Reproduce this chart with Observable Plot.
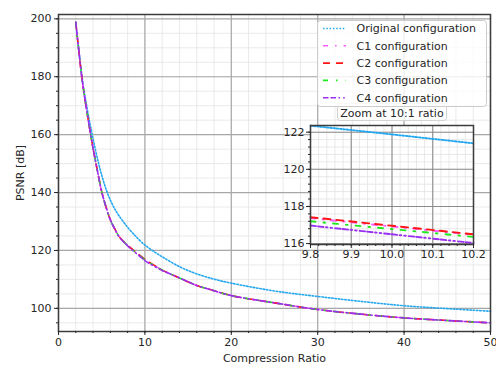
<!DOCTYPE html>
<html><head><meta charset="utf-8">
<script src="https://cdn.jsdelivr.net/npm/d3@7"></script>
<script src="https://cdn.jsdelivr.net/npm/@observablehq/plot@0.6"></script>
<style>
body{margin:0;background:#fff;}
#wrap{position:relative;width:496px;height:365px;font-family:"DejaVu Sans",sans-serif;}
#wrap > svg, #wrap > div{position:absolute;}
</style></head><body><div id="wrap"></div>
<script>
// ---- data ----
const ratios   = [2, 2.3, 2.7, 3, 3.5, 3.7, 4, 4.5, 5, 5.5, 6, 6.5, 7, 8, 9, 9.8, 10, 10.2, 11, 12, 14, 16, 18, 20, 25, 30, 35, 40, 45, 50];
const original = [198.8, 190.5, 180.5, 174.5, 166, 163, 158.6, 151.8, 146.0, 141.2, 137.4, 134.4, 132.0, 128.0, 124.7, 122.35, 121.88, 121.4, 119.7, 117.8, 114.4, 111.9, 110.1, 108.7, 106.0, 104.1, 102.4, 100.9, 99.9, 99.0];
const c1       = [198.8, 190.5, 179.8, 173.4, 164, 160.4, 155.3, 147.6, 140.3, 135.0, 130.6, 127.5, 124.9, 121.8, 119.3, 117.37, 116.92, 116.47, 115.0, 113.2, 110.5, 107.9, 106.1, 104.4, 101.9, 99.6, 98.0, 96.7, 95.8, 95.0];
const c2       = [198.8, 190.5, 179.8, 173.4, 164, 160.4, 155.3, 147.6, 140.3, 135.0, 130.6, 127.5, 124.9, 121.8, 119.3, 117.42, 116.96, 116.50, 115.0, 113.2, 110.5, 107.9, 106.1, 104.4, 101.9, 99.6, 98.0, 96.7, 95.8, 95.0];
const c3       = [198.8, 190.5, 179.8, 173.4, 164, 160.4, 155.3, 147.6, 140.3, 135.0, 130.6, 127.5, 124.9, 121.7, 119.2, 117.20, 116.78, 116.36, 114.9, 113.2, 110.5, 107.9, 106.1, 104.4, 101.9, 99.6, 98.0, 96.7, 95.8, 95.0];
const c4       = [198.8, 190.5, 179.8, 173.4, 164, 160.4, 155.3, 147.6, 140.3, 135.0, 130.6, 127.5, 124.8, 121.6, 119.0, 116.97, 116.50, 116.03, 114.7, 113.1, 110.5, 107.9, 106.1, 104.4, 101.9, 99.6, 98.0, 96.7, 95.8, 95.0];
const seriesNames = ["Original configuration", "C1 configuration", "C2 configuration", "C3 configuration", "C4 configuration"];
const mainXTicks = [0, 10, 20, 30, 40, 50];
const mainYTicks = [100, 120, 140, 160, 180, 200];
const zoomXTicks = [9.8, 9.9, 10.0, 10.1, 10.2];
const zoomYTicks = [116, 118, 120, 122];
const zoomTitle = "Zoom at 10:1 ratio";

// ---- styles ----
const seriesValues = [original, c1, c2, c3, c4];
const styles = [
  {stroke: "#22a7f0", dash: "1.5,1.8"},
  {stroke: "#ff5cff", dash: "5,7,1.6,7"},
  {stroke: "#ff1515", dash: "7,6"},
  {stroke: "#1eea1e", dash: "5,8,1.6,8"},
  {stroke: "#9a2ff2", dash: "5.5,2,5.5,2.5,1.6,3,1.6,3"}
];
const rows = seriesNames.flatMap((name, i) => ratios.map((r, j) => ({series: name, ratio: r, psnr: seriesValues[i][j]})));

const lineMarks = (data, curve, sw) => seriesNames.map((name, i) =>
  Plot.line(data.filter(d => d.series === name), {
    x: "ratio", y: "psnr", stroke: styles[i].stroke, strokeDasharray: styles[i].dash,
    strokeWidth: sw, curve
  }));

const wrap = document.getElementById("wrap");
const font = {fontFamily: "DejaVu Sans", fontSize: "11px", color: "#262626", background: "none", overflow: "visible"};

// ---- main chart ----
const main = Plot.plot({
  width: 496, height: 365, marginLeft: 58, marginRight: 6, marginTop: 14, marginBottom: 34,
  style: font,
  x: {domain: [0, 50]},
  y: {domain: [92, 201.5]},
  marks: [
    Plot.gridX(d3.range(0, 51, 2), {stroke: "#e4e4e4", strokeOpacity: 1, strokeWidth: 0.8}),
    Plot.gridY(d3.range(95, 201, 5), {stroke: "#e4e4e4", strokeOpacity: 1, strokeWidth: 0.8}),
    Plot.gridX(mainXTicks, {stroke: "#a8a8a8", strokeOpacity: 1, strokeWidth: 1.2}),
    Plot.gridY(mainYTicks, {stroke: "#a8a8a8", strokeOpacity: 1, strokeWidth: 1.2}),
    ...lineMarks(rows, "catmull-rom", 1.6),
    Plot.frame({stroke: "#3c3c3c", strokeWidth: 1.5}),
    Plot.axisX(d3.range(0, 51, 2), {tickSize: 2, tickFormat: () => "", label: null}),
    Plot.axisY(d3.range(95, 201, 5), {tickSize: 2, tickFormat: () => "", label: null}),
    Plot.axisX(mainXTicks, {tickSize: 4, tickPadding: 3, label: "Compression Ratio", labelAnchor: "center", labelOffset: 30, labelArrow: "none"}),
    Plot.axisY(mainYTicks, {tickSize: 4, tickPadding: 3, label: "PSNR [dB]", labelAnchor: "center", labelOffset: 42, labelArrow: "none"})
  ]
});
main.style.left = "0px"; main.style.top = "0px";
wrap.appendChild(main);

// ---- inset title box ----
const tbox = document.createElement("div");
tbox.textContent = zoomTitle;
Object.assign(tbox.style, {left: "337px", top: "103px", width: "110px", height: "18px", lineHeight: "18px",
  border: "1px solid #d4d4d4", borderRadius: "3px", background: "rgba(255,255,255,0.8)",
  fontSize: "11px", textAlign: "center", color: "#262626", boxSizing: "border-box", paddingTop: "1px"});
wrap.appendChild(tbox);

// ---- inset ----
const zoomRows = rows.filter(d => d.ratio >= 9.8 && d.ratio <= 10.2);
const inset = Plot.plot({
  width: 210, height: 165, marginLeft: 32, marginRight: 15, marginTop: 25, marginBottom: 21,
  style: font,
  x: {domain: [9.8, 10.2]},
  y: {domain: [115.95, 122.36]},
  marks: [
    Plot.frame({fill: "white", stroke: null}),
    Plot.gridX(d3.range(0, 21).map(i => 9.8 + i * 0.02), {stroke: "#e2e2e2", strokeOpacity: 1, strokeWidth: 0.8}),
    Plot.gridY(d3.range(0, 16).map(i => 116 + i * 0.4), {stroke: "#e2e2e2", strokeOpacity: 1, strokeWidth: 0.8}),
    Plot.gridX(zoomXTicks, {stroke: "#8c8c8c", strokeOpacity: 1, strokeWidth: 1.1}),
    Plot.gridY(zoomYTicks, {stroke: "#8c8c8c", strokeOpacity: 1, strokeWidth: 1.1}),
    ...lineMarks(zoomRows, "linear", 1.9),
    Plot.frame({stroke: "#3c3c3c", strokeWidth: 1.5}),
    Plot.axisX(d3.range(0, 21).map(i => 9.8 + i * 0.02), {tickSize: 2, tickFormat: () => "", label: null}),
    Plot.axisY(d3.range(0, 16).map(i => 116 + i * 0.4), {tickSize: 2, tickFormat: () => "", label: null}),
    Plot.axisX(zoomXTicks, {tickSize: 4, tickPadding: 2, tickFormat: d3.format(".1f"), label: null}),
    Plot.axisY(zoomYTicks, {tickSize: 4, tickPadding: 2, label: null})
  ]
});
inset.style.left = "278px"; inset.style.top = "100px";
wrap.appendChild(inset);

// ---- legend ----
const leg = d3.select(wrap).append("svg")
  .attr("width", 496).attr("height", 365)
  .style("left", "0px").style("top", "0px")
  .style("font-family", "DejaVu Sans").style("font-size", "11px");
leg.append("rect").attr("x", 317.5).attr("y", 20.5).attr("width", 169).attr("height", 86)
  .attr("rx", 3).attr("fill", "white").attr("fill-opacity", 0.8).attr("stroke", "#cccccc");
seriesNames.forEach((name, i) => {
  const y = 28.5 + 17.3 * i;
  leg.append("line").attr("x1", 323).attr("x2", 346).attr("y1", y).attr("y2", y)
    .attr("stroke", styles[i].stroke).attr("stroke-dasharray", styles[i].dash).attr("stroke-width", 1.6);
  leg.append("text").attr("x", 356.5).attr("y", y).attr("dy", "0.35em").attr("fill", "#262626").text(name);
});
</script>
</body></html>
